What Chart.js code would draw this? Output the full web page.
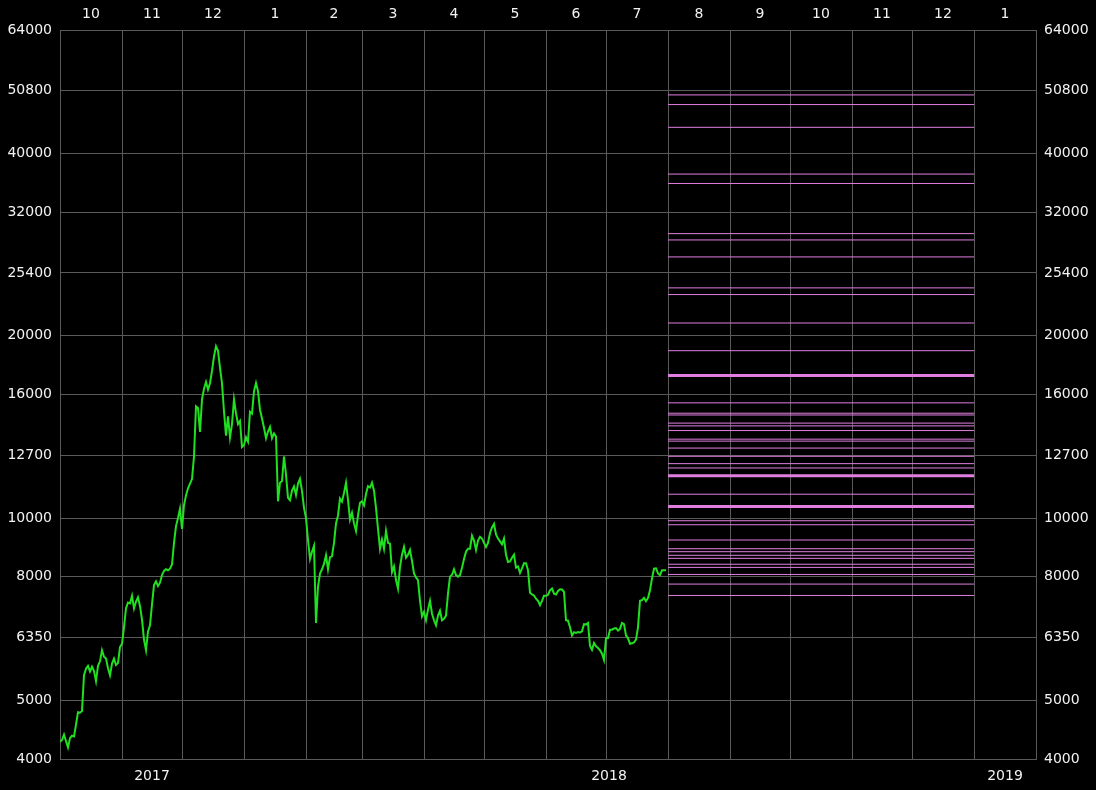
<!DOCTYPE html>
<html>
<head>
<meta charset="utf-8">
<script src="https://cdn.jsdelivr.net/npm/chart.js@4.4.1/dist/chart.umd.min.js"></script>
<style>
  html, body { margin: 0; padding: 0; background: #000; }
  #wrap { width: 1096px; height: 790px; }
</style>
</head>
<body>
<div id="wrap"><canvas id="chart" width="1096" height="790"></canvas></div>
<script>
// axis range: first visible day .. first day after the last visible month
const rangeStart = '2017-10-01';
const rangeEnd = '2019-02-01';

// month gridlines (first day of each month) and the labels shown on top
const monthStarts = ['2017-10-01','2017-11-01','2017-12-01','2018-01-01','2018-02-01','2018-03-01',
  '2018-04-01','2018-05-01','2018-06-01','2018-07-01','2018-08-01','2018-09-01','2018-10-01',
  '2018-11-01','2018-12-01','2019-01-01','2019-02-01'];
const monthLabels = ['10','11','12','1','2','3','4','5','6','7','8','9','10','11','12','1'];

// year labels at the bottom, centered on the visible part of each year
const yearLabels = ['2017', '2018', '2019'];
const yearSpans = [['2017-10-01','2018-01-01'], ['2018-01-01','2019-01-01'], ['2019-01-01','2019-02-01']];

// price axis ticks
const priceTicks = [4000, 5000, 6350, 8000, 10000, 12700, 16000, 20000, 25400, 32000, 40000, 50800, 64000];

// daily price, one value per day starting at rangeStart
const dailyPrice = [
  4270,4300,4390,4280,4180,4330,4370,4360,4560,4780,4770,4800,5500,5640,5700,5580,5680,5590,5380,5700,
  5800,6050,5900,5860,5650,5500,5750,5860,5720,5760,6120,6200,6600,7100,7250,7230,7440,7090,7280,7400,
  7150,6800,6300,6050,6500,6650,7200,7750,7860,7720,7820,8050,8180,8230,8200,8250,8380,9100,9700,10000,
  10360,9600,10500,10900,11200,11400,11600,12640,15300,15200,13880,15700,16350,16780,16300,16700,17500,18500,19220,18900,
  17700,16700,15000,13680,14720,13590,14300,15700,14900,14300,14470,13100,13200,13600,13370,14980,14880,16200,16720,16200,
  15100,14600,14100,13550,13900,14140,13550,13800,13630,10660,11440,11510,12640,11800,10800,10700,11100,11280,10920,11400,
  11610,11090,10400,10000,9200,8560,8800,9000,6710,7700,8100,8230,8400,8680,8230,8620,8650,9100,9800,10100,
  10770,10650,11000,11440,10720,9940,10200,9800,9520,10100,10600,10660,10500,10960,11290,11230,11440,11100,10400,9600,
  8900,9220,8900,9520,9100,9070,8140,8320,7900,7650,8300,8700,8960,8600,8700,8860,8500,8100,7980,7900,
  7300,6880,7000,6780,7060,7300,6950,6780,6650,6900,7030,6780,6820,6900,7500,8000,8060,8230,8050,8000,
  8050,8280,8560,8800,8900,8900,9350,9180,8860,9180,9310,9250,9100,8960,9100,9450,9650,9780,9400,9250,
  9150,9050,9250,8700,8460,8480,8600,8700,8280,8320,8120,8260,8420,8420,8200,7530,7480,7450,7360,7300,
  7180,7300,7440,7440,7470,7600,7650,7500,7480,7580,7630,7620,7550,6780,6770,6600,6400,6480,6460,6480,
  6470,6500,6680,6670,6710,6150,6060,6220,6140,6100,6050,5970,5830,6340,6340,6540,6540,6570,6580,6520,
  6560,6710,6680,6400,6330,6200,6210,6230,6300,6600,7300,7320,7380,7290,7380,7600,7950,8250,8260,8100,
  8050,8200,8200,8200
];

// horizontal price levels drawn over the future months
const levelFrom = '2018-08-01';
const levelTo = '2019-01-01';
const thinLevels = [50000, 48200, 44200, 37000, 35700, 29500, 28800, 27000, 24000, 23400, 21000, 18900,
  15500, 14900, 14800, 14350, 14200, 13950, 13500, 13400, 13050, 12650, 12300, 12100, 10950, 9900, 9750,
  9200, 8900, 8800, 8680, 8580, 8390, 8290, 8070, 7780, 7450];
const strongLevels = [17200, 11750, 10450];

const DAY = 86400000;
function dayOf(s) {
  return (Date.parse(s + 'T00:00:00Z') - Date.parse(rangeStart + 'T00:00:00Z')) / DAY;
}

const gridColor = '#5a5a5a';
const textColor = '#f2f2f2';
const levelColor = '#e07ee0';
const priceColor = '#20e020';

const xMax = dayOf(rangeEnd);
const monthDays = monthStarts.map(dayOf);
const monthMids = monthLabels.map((l, i) => (monthDays[i] + monthDays[i + 1]) / 2);
const yearMids = yearSpans.map(s => (dayOf(s[0]) + dayOf(s[1])) / 2);

function levelDataset(v, w) {
  return {
    data: [{x: dayOf(levelFrom), y: v}, {x: dayOf(levelTo), y: v}],
    borderColor: levelColor,
    borderWidth: w,
    pointRadius: 0,
    xAxisID: 'x',
    yAxisID: 'y',
    order: 2
  };
}

const datasets = [];
thinLevels.forEach(v => datasets.push(levelDataset(v, 1)));
strongLevels.forEach(v => datasets.push(levelDataset(v, 3)));
datasets.push({
  data: dailyPrice.map((v, i) => ({x: i, y: v})),
  borderColor: priceColor,
  borderWidth: 2,
  pointRadius: 0,
  tension: 0,
  xAxisID: 'x',
  yAxisID: 'y',
  order: 1
});

Chart.defaults.font.family = 'DejaVu Sans';
Chart.defaults.font.size = 14;
Chart.defaults.color = textColor;

const yAxis = (pos) => ({
  type: 'logarithmic',
  position: pos,
  min: priceTicks[0],
  max: priceTicks[priceTicks.length - 1],
  afterBuildTicks: s => { s.ticks = priceTicks.map(v => ({value: v})); },
  afterFit: s => { s.width = 60; },
  grid: { display: pos === 'left', color: gridColor, lineWidth: 1, drawTicks: false },
  border: { display: true, color: gridColor },
  ticks: { autoSkip: false, padding: 8, callback: v => String(v) }
});

new Chart(document.getElementById('chart'), {
  type: 'line',
  data: { datasets: datasets },
  options: {
    responsive: false,
    animation: false,
    devicePixelRatio: 1,
    layout: { padding: 0 },
    plugins: { legend: { display: false }, tooltip: { enabled: false } },
    scales: {
      x: {
        type: 'linear',
        position: 'bottom',
        min: 0,
        max: xMax,
        afterBuildTicks: s => { s.ticks = monthDays.map(v => ({value: v})); },
        afterFit: s => { s.height = 0; },
        grid: { color: gridColor, lineWidth: 1, drawTicks: false },
        border: { color: gridColor },
        ticks: { display: false }
      },
      xYear: {
        type: 'linear',
        position: 'bottom',
        min: 0,
        max: xMax,
        afterBuildTicks: s => { s.ticks = yearMids.map(v => ({value: v})); },
        afterFit: s => { s.height = 31; },
        grid: { display: false, drawTicks: false },
        border: { display: false },
        ticks: { autoSkip: false, maxRotation: 0, padding: 9, callback: (v, i) => yearLabels[i] }
      },
      xMonth: {
        type: 'linear',
        position: 'top',
        min: 0,
        max: xMax,
        afterBuildTicks: s => { s.ticks = monthMids.map(v => ({value: v})); },
        afterFit: s => { s.height = 30; },
        grid: { display: false, drawTicks: false },
        border: { display: false },
        ticks: { autoSkip: false, maxRotation: 0, padding: 7, callback: (v, i) => monthLabels[i] }
      },
      y: yAxis('left'),
      y2: yAxis('right')
    }
  }
});
</script>
</body>
</html>
